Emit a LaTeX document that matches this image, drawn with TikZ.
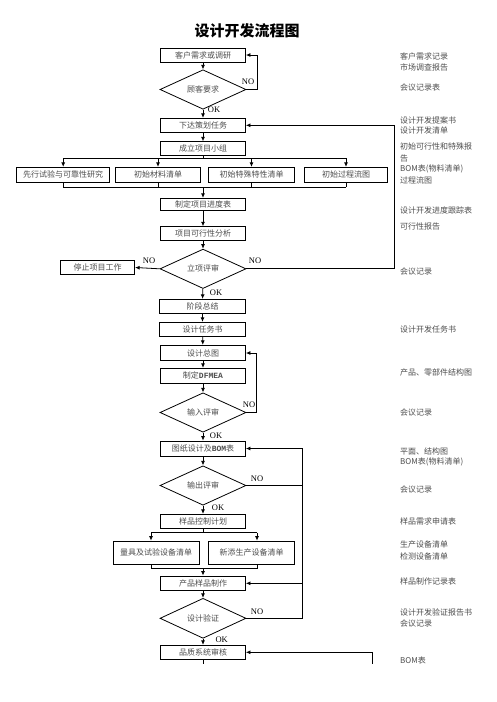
\documentclass[tikz,border=0pt]{standalone}
\usepackage{fontspec}
\setmainfont{Noto Sans CJK SC}
\newfontfamily\latinfont{Liberation Serif}
\newfontfamily\codefont{Liberation Mono}
\usetikzlibrary{shapes.geometric, arrows.meta, positioning}

\begin{document}
\begin{tikzpicture}[x=1pt, y=-1pt,
    font=\fontsize{8}{9}\selectfont,
    box/.style={draw, line width=0.8pt, minimum width=85pt, minimum height=14pt,
        inner sep=1pt, text=black!70},
    check/.style={draw, diamond, line width=0.8pt, minimum width=86pt,
        minimum height=39pt, inner sep=0pt, text=black!70},
    link/.style={line width=0.8pt, -{Latex[length=4.5pt, width=4pt]}},
    wire/.style={line width=0.8pt},
    tag/.style={font=\latinfont\fontsize{8.5}{9}\selectfont, inner sep=0pt},
    note/.style={anchor=west, inner sep=0pt, text=black!70}]

    \useasboundingbox (0,0) rectangle (496,702);

    \node[font=\bfseries\fontsize{15}{16}\selectfont] (title) at (247,31) {设计开发流程图};

    % main column
    \node[box] (need) at (203,55) {客户需求或调研};
    \node[check] (ask) at (203,89.5) {顾客要求};
    \node[box] (plan) at (203,125.3) {下达策划任务};
    \node[box] (team) at (203,148.7) {成立项目小组};
    \node[box, minimum width=93pt, minimum height=15pt] (pre) at (63.2,174.8) {先行试验与可靠性研究};
    \node[box, minimum width=85.4pt, minimum height=15pt] (mat) at (158,174.8) {初始材料清单};
    \node[box, minimum width=86.4pt, minimum height=15pt] (spec) at (251.5,174.8) {初始特殊特性清单};
    \node[box, minimum width=83.4pt, minimum height=15pt] (flow) at (346,174.8) {初始过程流图};
    \node[box, minimum height=12.4pt] (sched) at (203,204.5) {制定项目进度表};
    \node[box, minimum height=13.3pt] (feas) at (203,233.3) {项目可行性分析};
    \node[check] (rev1) at (203,268.8) {立项评审};
    \node[box, minimum width=74.4pt, minimum height=13.6pt] (stop) at (97.5,267.5) {停止项目工作};
    \node[box, minimum width=86.4pt] (sum) at (202.5,306.3) {阶段总结};
    \node[box, minimum width=86.4pt] (task) at (202.5,329.3) {设计任务书};
    \node[box, minimum height=15.4pt] (gen) at (203,353) {设计总图};
    \node[box, minimum height=15pt] (dfmea) at (203,375.8) {制定{\codefont\bfseries DFMEA}};
    \node[check, minimum height=38.4pt] (rev2) at (203,412.5) {输入评审};
    \node[box, minimum height=15pt] (draw) at (203,448.5) {图纸设计及{\codefont\bfseries BOM}表};
    \node[check] (rev3) at (203,485.5) {输出评审};
    \node[box] (sctl) at (203,521.3) {样品控制计划};
    \node[box, minimum width=85.7pt, minimum height=23.3pt] (gauge) at (156.2,552.7) {量具及试验设备清单};
    \node[box, minimum width=86.4pt, minimum height=23.3pt] (equip) at (251.5,552.7) {新添生产设备清单};
    \node[box, minimum height=14.7pt] (make) at (203,583.3) {产品样品制作};
    \node[check, minimum height=40pt] (rev4) at (203,618.3) {设计验证};
    \node[box] (qa) at (203,652.3) {品质系统审核};

    % decision labels
    \node[tag] (no1) at (248,81.7) {NO};
    \node[tag] (ok1) at (214,110) {OK};
    \node[tag] (no2) at (149,260.7) {NO};
    \node[tag] (no3) at (255,260.7) {NO};
    \node[tag] (ok2) at (216,292.3) {OK};
    \node[tag] (no4) at (249,404.3) {NO};
    \node[tag] (ok3) at (216,436) {OK};
    \node[tag] (no5) at (257,478.3) {NO};
    \node[tag] (ok4) at (218,507.7) {OK};
    \node[tag] (no6) at (257,611.7) {NO};
    \node[tag] (ok5) at (221.7,639.3) {OK};

    % helper coordinates
    \coordinate (split1) at (0,158.3);
    \coordinate (join1) at (0,187.3);
    \coordinate (split2) at (0,532.7);
    \coordinate (join2) at (0,568.3);
    \coordinate (g) at (151,0);
    \coordinate (e) at (257,0);
    \coordinate (r1) at (394.3,0);
    \coordinate (r3) at (302.3,0);
    \coordinate (r5) at (372.3,0);
    \coordinate (cut) at (0,663.5);

    % flow
    \draw[link] (need) -- (ask);
    \draw[link] (ask.east) -- ++(11,0) |- (need.east);
    \draw[link] (ask) -- (plan);
    \draw[link] (plan) -- (team);
    \draw[wire] (team.south) -- (team.south |- split1);
    \draw[wire] (pre.north |- split1) -- (flow.north |- split1);
    \foreach \n in {pre, mat, spec, flow}
        \draw[link] (\n.north |- split1) -- (\n.north);
    \foreach \n in {pre, mat, spec, flow}
        \draw[wire] (\n.south) -- (\n.south |- join1);
    \draw[wire] (pre.south |- join1) -- (flow.south |- join1);
    \draw[link] (sched.north |- join1) -- (sched.north);
    \draw[link] (sched) -- (feas);
    \draw[link] (feas) -- (rev1);
    \draw[link] (rev1.west) -- (stop.east);
    \draw[link] (rev1.east) -- (rev1.east -| r1) |- (plan.east);
    \draw[link] (rev1) -- (sum);
    \draw[link] (sum) -- (task);
    \draw[link] (task) -- (gen);
    \draw[link] (gen) -- (dfmea);
    \draw[link] (dfmea) -- (rev2);
    \draw[link] (rev2.east) -- ++(10.3,0) |- (gen.east);
    \draw[link] (rev2) -- (draw);
    \draw[link] (draw) -- (rev3);
    \draw[wire] (rev3.east) -- (rev3.east -| r3);
    \draw[link] (rev3) -- (sctl);
    \draw[wire] (sctl.south) -- (sctl.south |- split2);
    \draw[wire] (g |- split2) -- (e |- split2);
    \draw[link] (g |- split2) -- (g |- gauge.north);
    \draw[link] (e |- split2) -- (e |- equip.north);
    \draw[wire] (g |- gauge.south) -- (g |- join2) -- (e |- join2) -- (e |- equip.south);
    \draw[link] (make.north |- join2) -- (make.north);
    \draw[link] (make) -- (rev4);
    \draw[link] (rev4.east) -- (rev4.east -| r3) |- (draw.east);
    \draw[link] (make.east -| r3) -- (make.east);
    \draw[link] (rev4) -- (qa);
    \draw[wire] (qa.south) -- (qa.south |- cut);
    \draw[link] (qa.east -| r5) -- (qa.east);
    \draw[wire] (qa.east -| r5) -- (r5 |- cut);

    % records
    \foreach \y/\t [count=\i] in {56/客户需求记录, 67/市场调查报告, 87.3/会议记录表,
        120/设计开发提案书, 130.5/设计开发清单, 146/初始可行性和特殊报, 158.3/告,
        169/BOM表(物料清单), 180.7/过程流图, 210/设计开发进度跟踪表, 226.7/可行性报告,
        271.7/会议记录, 329.3/设计开发任务书, 372.7/产品、零部件结构图, 412.3/会议记录,
        451/平面、结构图, 462/BOM表(物料清单), 489/会议记录, 521/样品需求申请表,
        544.3/生产设备清单, 556/检测设备清单, 581/样品制作记录表,
        612.7/设计开发验证报告书, 623.3/会议记录, 660/BOM表}
        \node[note] (rec\i) at (400,\y) {\t};
\end{tikzpicture}
\end{document}
